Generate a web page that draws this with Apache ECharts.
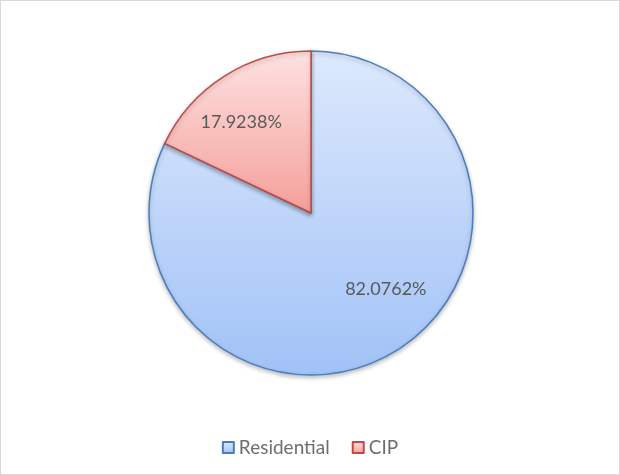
<!DOCTYPE html>
<html>
<head>
<meta charset="utf-8">
<script src="https://cdn.jsdelivr.net/npm/echarts@6/dist/echarts.min.js"></script>
<style>
html,body{margin:0;padding:0;background:#fff;}
#c{width:618px;height:473px;border:1px solid #d9d9d9;}
</style>
</head>
<body>
<div id="c"></div>
<script>
const categories = ['Residential', 'CIP'];
const values = [82.0762, 17.9238];
const labelTexts = ['82.0762%', '17.9238%'];

const fills = [
  new echarts.graphic.LinearGradient(0, 0, 0, 1, [{offset: 0, color: '#dde9fc'}, {offset: 1, color: '#a1c2f7'}]),
  new echarts.graphic.LinearGradient(0, 0, 0, 1, [{offset: 0, color: '#fde2e1'}, {offset: 1, color: '#f59f9a'}])
];
const borders = ['#4a7ebb', '#be4b48'];
const labelShift = [[30, 5], [-25, -20]];

const chart = echarts.init(document.getElementById('c'), null, {renderer: 'canvas'});
chart.setOption({
  animation: false,
  backgroundColor: '#ffffff',
  legend: {
    top: 432,
    left: 'center',
    itemWidth: 11,
    itemHeight: 11,
    itemGap: 22,
    icon: 'rect',
    textStyle: {fontFamily: 'Lato', fontSize: 19, color: '#6e6e6e'},
    data: categories
  },
  series: [{
    type: 'pie',
    center: [310, 212],
    radius: 162,
    startAngle: 90,
    clockwise: true,
    avoidLabelOverlap: false,
    data: categories.map((name, i) => ({
      name: name,
      value: values[i],
      itemStyle: {
        color: fills[i],
        borderColor: borders[i],
        borderWidth: 1.5,
        shadowBlur: 4,
        shadowOffsetY: 2,
        shadowColor: 'rgba(0,0,0,0.25)'
      },
      label: {formatter: labelTexts[i]}
    })),
    label: {
      show: true,
      position: 'inside',
      fontFamily: 'Lato',
      fontSize: 18,
      color: '#595959'
    },
    labelLine: {show: false},
    labelLayout: function (p) {
      const s = labelShift[p.dataIndex];
      return {dx: s[0], dy: s[1]};
    },
    emphasis: {disabled: true}
  }]
});
</script>
</body>
</html>
